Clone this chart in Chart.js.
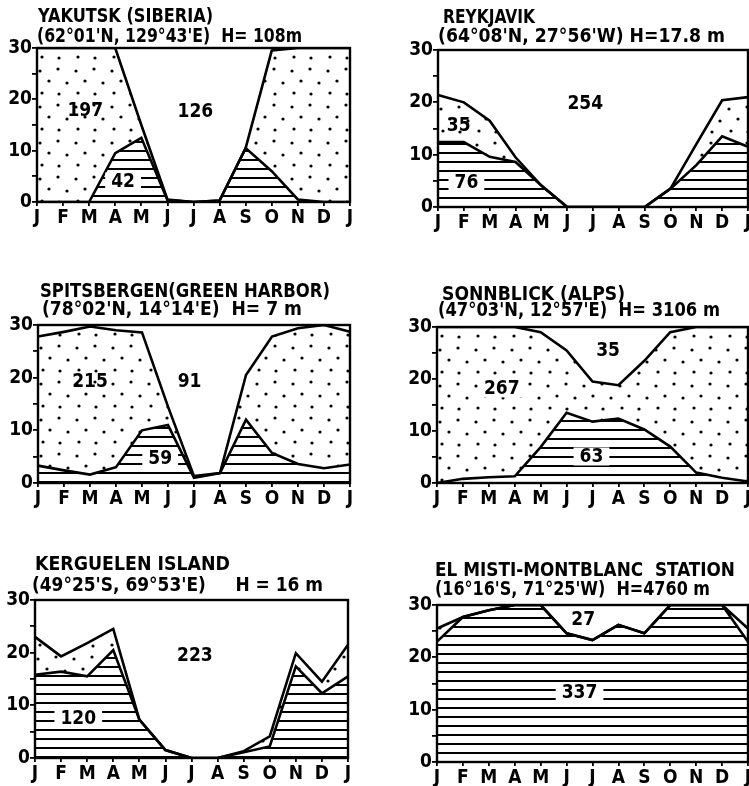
<!DOCTYPE html>
<html>
<head>
<meta charset="utf-8">
<script src="https://cdn.jsdelivr.net/npm/chart.js@4.4.1/dist/chart.umd.min.js"></script>
<style>
  html, body { margin:0; padding:0; background:#fff; width:749px; height:786px; overflow:hidden; }
  #wrap { position:relative; width:749px; height:786px; overflow:hidden; }
  canvas { position:absolute; }
</style>
</head>
<body>
<div id="wrap"></div>
<script>
// ---------------- DATA ----------------
const months = ['J','F','M','A','M','J','J','A','S','O','N','D','J'];
const yTickValues = [0, 10, 20, 30];

const stationNames = [
  'YAKUTSK (SIBERIA)',
  'REYKJAVIK',
  'SPITSBERGEN(GREEN HARBOR)',
  'SONNBLICK (ALPS)',
  'KERGUELEN ISLAND',
  'EL MISTI-MONTBLANC  STATION'
];
const stationInfo = [
  "(62°01'N, 129°43'E)  H= 108m",
  "(64°08'N, 27°56'W) H=17.8 m",
  "(78°02'N, 14°14'E)  H= 7 m",
  "(47°03'N, 12°57'E)  H= 3106 m",
  "(49°25'S, 69°53'E)     H = 16 m",
  "(16°16'S, 71°25'W)  H=4760 m"
];

// upper curve (top of dotted area) and lower curve (top of hatched area), days per month
const yakutskUpper   = [30, 30, 30, 30, 15, 0.5, 0, 0.3, 10.5, 29.5, 30, 30, 30];
const yakutskLower   = [0, 0, 0, 9.5, 12.5, 0.4, 0, 0.3, 10.5, 6, 0.5, 0, 0];
const reykjavikUpper = [21.4, 20, 16.5, 9.5, 4.1, 0, 0, 0, 0, 3.5, 12, 20.4, 21];
const reykjavikLower = [12.4, 12.4, 9.6, 8.6, 4.1, 0, 0, 0, 0, 3.5, 8, 13.5, 11.5];
const spitsUpper     = [27.8, 28.7, 29.7, 29, 28.6, 14.5, 1.3, 1.9, 20.5, 27.8, 29.4, 30, 28.7];
const spitsLower     = [3.3, 2.4, 1.6, 3, 10, 11, 1, 1.9, 12, 5.7, 3.6, 2.8, 3.5];
const sonnUpper      = [30, 30, 30, 30, 29, 25.5, 19.5, 18.8, 23.5, 29, 30, 30, 30];
const sonnLower      = [0, 0.8, 1.1, 1.3, 6.9, 13.5, 11.8, 12.4, 10.3, 7, 2, 1, 0.3];
const kergUpper      = [23, 19.3, 21.8, 24.5, 7.3, 1.5, 0, 0, 1.3, 4.1, 19.9, 14.5, 21.5];
const kergLower      = [15.8, 16.4, 15.5, 20.5, 7.3, 1.5, 0, 0, 1.1, 2.2, 17.4, 12.3, 15.5];
const mistiUpper     = [25.5, 27.7, 29, 30, 30, 24.6, 23.3, 26.2, 24.6, 30, 30, 30, 25.5];
const mistiLower     = [23, 27.7, 29, 30, 30, 24.6, 23.3, 26.2, 24.6, 30, 30, 30, 23];

// totals written in the areas: [dotted, clear, hatched]
const yakutskTotals   = ['197', '126', '42'];
const reykjavikTotals = ['35', '254', '76'];
const spitsTotals     = ['215', '91', '59'];
const sonnTotals      = ['267', '35', '63'];
const kergTotals      = [null, '223', '120'];
const mistiTotals     = [null, '27', '337'];

// ---------------- STYLE / LAYOUT ----------------
const FONT = "'Liberation Sans Narrow', 'DejaVu Sans Condensed', 'Liberation Sans', sans-serif";

function makeHatch() {
  const c = document.createElement('canvas');
  c.width = 8; c.height = 9;
  const x = c.getContext('2d');
  x.fillStyle = '#fff'; x.fillRect(0, 0, 8, 9);
  x.fillStyle = '#000'; x.fillRect(0, 3, 8, 2);
  return x.createPattern(c, 'repeat');
}
function makeDots() {
  const c = document.createElement('canvas');
  c.width = 36; c.height = 36;
  const x = c.getContext('2d');
  x.fillStyle = '#fff'; x.fillRect(0, 0, 36, 36);
  x.fillStyle = '#000';
  [[4,5],[22,3],[13,15],[31,17],[6,27],[23,28]].forEach(p => {
    x.beginPath(); x.arc(p[0], p[1], 1.6, 0, Math.PI * 2); x.fill();
  });
  return x.createPattern(c, 'repeat');
}
const hatch = makeHatch();
const dots = makeDots();

const panels = [
  { upper: yakutskUpper, lower: yakutskLower, totals: yakutskTotals,
    L: 37, T: 48, R: 350, B: 202,
    t1: { dx: 1, dy: -31, w: 175 }, t2: { dx: 0, dy: -11, w: 265 },
    spots: [[1.85, 18, false], [6.07, 17.7, false], [3.3, 4, true]] },
  { upper: reykjavikUpper, lower: reykjavikLower, totals: reykjavikTotals,
    L: 438, T: 50, R: 748, B: 207,
    t1: { dx: 5, dy: -32, w: 92 }, t2: { dx: 0, dy: -13, w: 287 },
    spots: [[0.8, 15.6, false], [5.7, 19.8, false], [1.1, 4.8, true]] },
  { upper: spitsUpper, lower: spitsLower, totals: spitsTotals,
    L: 38, T: 325, R: 350, B: 483,
    t1: { dx: 2, dy: -33, w: 290 }, t2: { dx: 4, dy: -14.5, w: 260 },
    spots: [[2.0, 19.3, false], [5.83, 19.3, false], [4.7, 4.7, true]] },
  { upper: sonnUpper, lower: sonnLower, totals: sonnTotals,
    L: 437, T: 327, R: 748, B: 483,
    t1: { dx: 5, dy: -31.5, w: 183 }, t2: { dx: 1, dy: -15.5, w: 282 },
    spots: [[2.5, 18.2, true], [6.6, 25.5, false], [5.96, 5.1, true]] },
  { upper: kergUpper, lower: kergLower, totals: kergTotals,
    L: 35, T: 600, R: 348, B: 758,
    t1: { dx: 0, dy: -35, w: 195 }, t2: { dx: -3, dy: -13.5, w: 291 },
    spots: [null, [6.13, 19.6, false], [1.66, 7.6, true]] },
  { upper: mistiUpper, lower: mistiLower, totals: mistiTotals,
    L: 437, T: 605, R: 748, B: 762,
    t1: { dx: -2, dy: -33.5, w: 300 }, t2: { dx: -2, dy: -15, w: 275 },
    spots: [null, [5.64, 27.4, false], [5.5, 13.4, true]] }
];

// ---------------- PLUGINS ----------------
const boxPlugin = {
  id: 'boxPlugin',
  afterDatasetsDraw(chart) {
    const a = chart.chartArea, ctx = chart.ctx;
    ctx.save();
    ctx.strokeStyle = '#000'; ctx.lineWidth = 2.4;
    ctx.strokeRect(a.left, a.top, a.right - a.left, a.bottom - a.top);
    ctx.restore();
  }
};

function drawFitted(ctx, text, x, y, w) {
  const m = ctx.measureText(text).width;
  ctx.save();
  ctx.translate(x, y);
  ctx.scale(w / m, 1);
  ctx.fillText(text, 0, 0);
  ctx.restore();
}

const titlePlugin = {
  id: 'panelTitle',
  afterDraw(chart, args, opts) {
    const a = chart.chartArea, ctx = chart.ctx;
    ctx.save();
    ctx.fillStyle = '#000';
    ctx.textBaseline = 'middle';
    ctx.textAlign = 'left';
    ctx.font = 'bold 19px ' + FONT;
    drawFitted(ctx, opts.line1, a.left + opts.t1.dx, a.top + opts.t1.dy, opts.t1.w);
    drawFitted(ctx, opts.line2, a.left + opts.t2.dx, a.top + opts.t2.dy, opts.t2.w);
    ctx.restore();
  }
};

const labelPlugin = {
  id: 'areaLabels',
  afterDatasetsDraw(chart, args, opts) {
    const ctx = chart.ctx, xs = chart.scales.x, ys = chart.scales.y;
    ctx.save();
    ctx.font = 'bold 19px ' + FONT;
    ctx.textAlign = 'center';
    ctx.textBaseline = 'middle';
    opts.items.forEach(it => {
      if (!it) return;
      const px = xs.getPixelForValue(it.x);
      const py = ys.getPixelForValue(it.y);
      if (it.box) {
        const w = ctx.measureText(it.text).width + 12;
        ctx.fillStyle = '#fff';
        ctx.fillRect(px - w / 2, py - 9, w, 18);
      }
      ctx.fillStyle = '#000';
      ctx.fillText(it.text, px, py + 1);
    });
    ctx.restore();
  }
};

// ---------------- BUILD ----------------
const wrap = document.getElementById('wrap');
const PAD_TOP = 54, Y_W = 37, X_H = 34, PAD_R = 12;

panels.forEach((p, i) => {
  const c = document.createElement('canvas');
  const w = (p.R - p.L) + Y_W + PAD_R;
  const h = (p.B - p.T) + PAD_TOP + X_H;
  c.width = w; c.height = h;
  c.style.left = (p.L - Y_W) + 'px';
  c.style.top = (p.T - PAD_TOP) + 'px';
  c.style.width = w + 'px';
  c.style.height = h + 'px';
  wrap.appendChild(c);

  const items = p.totals.map((t, k) => (t && p.spots[k]) ? { text: t, x: p.spots[k][0], y: p.spots[k][1], box: p.spots[k][2] } : null);

  new Chart(c, {
    type: 'line',
    data: {
      labels: months,
      datasets: [
        { data: p.lower, borderColor: '#000', borderWidth: 2.6, pointRadius: 0, tension: 0,
          fill: 'origin', backgroundColor: hatch },
        { data: p.upper, borderColor: '#000', borderWidth: 2.6, pointRadius: 0, tension: 0,
          fill: { target: '-1', above: dots, below: 'rgba(0,0,0,0)' }, backgroundColor: dots }
      ]
    },
    options: {
      responsive: false,
      animation: false,
      devicePixelRatio: 1,
      layout: { padding: { top: PAD_TOP, right: PAD_R, left: 0, bottom: 0 } },
      scales: {
        x: {
          offset: false,
          grid: { display: true, drawOnChartArea: false, drawTicks: true, tickLength: 4, color: '#000', lineWidth: 1.8 },
          border: { display: true, color: '#000', width: 2 },
          ticks: { color: '#000', font: { family: FONT, size: 19, weight: 'bold' }, padding: 1, autoSkip: false, maxRotation: 0 },
          afterFit: s => { s.height = X_H; }
        },
        y: {
          min: 0, max: 30,
          grid: { display: true, drawOnChartArea: false, drawTicks: true, tickLength: 5, color: '#000', lineWidth: 1.8 },
          border: { display: true, color: '#000', width: 2 },
          ticks: { stepSize: 5, color: '#000', autoSkip: false, padding: 0,
                   font: { family: FONT, size: 19, weight: 'bold' },
                   callback: v => yTickValues.includes(v) ? String(v) : '' },
          afterFit: s => { s.width = Y_W; }
        }
      },
      plugins: {
        legend: { display: false },
        tooltip: { enabled: false },
        title: { display: false },
        filler: { drawTime: 'beforeDatasetsDraw' },
        panelTitle: { line1: stationNames[i], line2: stationInfo[i], t1: p.t1, t2: p.t2 },
        areaLabels: { items: items }
      }
    },
    plugins: [boxPlugin, titlePlugin, labelPlugin]
  });
});
</script>
</body>
</html>
